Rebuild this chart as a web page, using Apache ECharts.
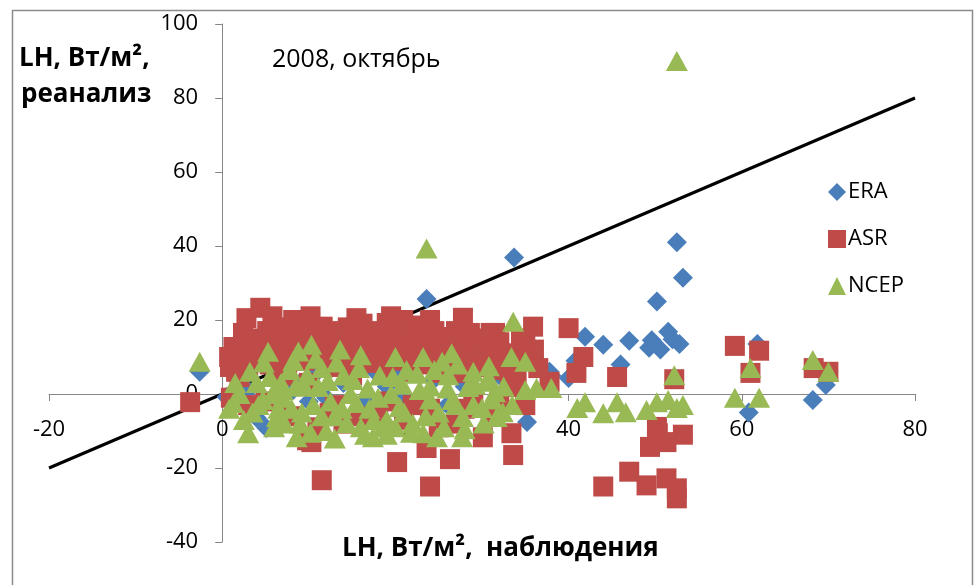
<!DOCTYPE html>
<html>
<head>
<meta charset="utf-8">
<script src="https://cdn.jsdelivr.net/npm/echarts@6/dist/echarts.min.js"></script>
<style>html,body{margin:0;padding:0;background:#fff}#c{width:974px;height:585px}</style>
</head>
<body>
<div id="c"></div>
<script>
const xTicks = [-20, 0, 20, 40, 60, 80];
const yTicks = [-40, -20, 0, 20, 40, 60, 80, 100];
const seriesNames = ['ERA', 'ASR', 'NCEP'];
const refLineX = [-20, 80];
const refLineY = [-20, 80];

const eraPoints = [
  [-2.6,6],[0.5,-0.8],[0.9,-0.8],[2,2],[4,-6.5],[5.1,-9.2],[3,1],[6,4],[8.2,1.1],[7,-3],
  [9,3],[10,-2],[11,6],[12,-1],[13,9],[14,3],[14.4,18.2],[15.7,19.2],[16.7,-1.6],[16.7,-3.5],
  [17.8,5.7],[18.2,6.5],[19,2],[20,5],[21,-1],[22,8],[23.6,25.7],[24.4,3.8],[25,10],[26,-3],
  [27,6],[28,2],[29,12],[30,11],[31.3,11.4],[31.7,11.1],[32,5],[33.7,36.9],[35.2,-7.6],[36,10],
  [37.8,6],[38,5],[40,4.3],[40.8,9],[41.9,15.5],[44,13.3],[46,8],[47,14.4],[49.3,12.5],[49.6,14.5],
  [50.2,25],[50.6,12],[51.5,16.8],[52,14.8],[52.5,41],[53.2,31.4],[52.8,13.5],[61.8,13.5],[60.8,-5],
  [68.2,-1.6],[69.7,2.4]
];

const asrPoints = [
  [-3.7,-2.2],[0.9,7.3],[1.3,12.7],[2,4.6],[2.4,16.5],[3.6,10],[4.4,23.3],[5,14],[5.5,8],[6,18],
  [7,14.6],[7.5,5],[8.2,20],[8.5,12],[9,16],[9.5,9],[10,3],[10.5,17],[11.6,18.2],[12,13],
  [12.8,7.3],[13,16],[14,11],[14.7,15.4],[15,5],[15.5,13],[16.7,16.5],[16.7,8.4],[17.5,12],[18,17],
  [19,19.2],[19.5,14],[20,9],[20.5,11.9],[20.9,20],[21.5,16],[22,6],[22.5,13],[23,17],[24,11],
  [25.2,5.7],[25.5,15.4],[26,12],[27,17],[27.8,20.6],[27.8,5.7],[28.6,16.5],[29,13.8],[29.7,8.4],[30.1,7.3],
  [31,16.5],[31.5,16.5],[32.9,8.4],[34,3.8],[35,13.8],[35.9,18.2],[33,11],[33.2,5.7],[33.6,1.9],[37.8,3.3],
  [1.5,9],[2.5,13],[3,7],[4,15],[4.5,11],[5.2,17],[6.5,10],[6.8,6],[7.5,17.5],[8,9],
  [9.2,13],[9.8,18.5],[10.8,11],[11,15],[11.8,9.5],[12.5,17],[13.5,13.5],[13.8,8],[14.5,18],[15.2,10],
  [16,14],[16.2,19],[17,10.5],[18.3,14.5],[18.8,7],[19.2,11],[20,16.5],[21,13.5],[21.8,10],[22.2,18.5],
  [23.2,14],[23.8,8],[24.5,17],[25,12.5],[26.5,9],[26.8,15],[27.5,11],[28.2,7.5],[29.5,15],[30.5,12],
  [31,9],[32,14],[32.5,6.5],[34,9],[34.5,15],[36,12],[36.5,7],[2.8,20.5],[5.8,21],[10.2,21],
  [15.5,20.5],[19.5,21],[24,20],[0.8,10],[1.6,6],
  [5,-2],[8,-6],[11,-9],[13,-3],[16,-6],[19,-2],[21,-7],[24,-4],[27,-8],[29,-1],[31,-6],[32,-2],[35,-3],
  [1,-1],[3,-3],[9.8,-12.5],[10.3,-13],[11.5,-23.3],[12.4,-5.1],[14,-8],[18,-5],[20.2,-18.4],[22,-3],
  [23.6,-14.6],[24,-25],[26.3,-17.6],[25,-9],[30.1,-11.7],[33.4,-10.6],[33.6,-16.5],[28,-4],
  [40,17.8],[41.7,10],[40.9,5.7],[45.6,4.6],[52.2,4],[44,-25],[47,-21],[49,-24.7],[51.3,-22.8],
  [52.5,-25.5],[52.5,-28.2],[49.4,-14.3],[50.3,-10.6],[53.2,-11],[51.3,-13],[50.2,-8.9],
  [59.2,13],[62,11.7],[61,5.7],[68.3,7],[70,6]
];

const ncepPoints = [
  [-2.6,8.7],[1.3,-2.4],[2,0],[3,-10.6],[4.7,-1.6],[5.3,11.4],[5.5,4.6],[6.3,-6.2],[7,1],[7.8,6.5],
  [8,-4],[8.6,-11.7],[9,-8],[10.3,13.3],[10.5,-3],[11.1,1.9],[11.5,7],[12,-10],[13,-6],[13.6,12],
  [14.4,-7.9],[15.1,3.8],[15.5,-2.4],[16,-9],[17.4,-11.7],[18,-1],[19.7,4.6],[20.5,-3.5],[21.3,6.5],[22,-8],
  [22.8,1.1],[23.2,10],[23.2,-10.6],[23.6,39.3],[24.8,-11.7],[25.4,8.7],[26.1,5.1],[26.6,-1.6],[27.8,-6.2],[27.7,-11.7],
  [28.4,1.9],[29,-3],[30,-3.8],[30.5,3.3],[30.9,3.8],[31.5,0.5],[31.7,-6.2],[32.4,-4.9],[33.5,-3],[33.4,10],
  [33.6,19.5],[35,8.7],[35,1.1],[36.3,1.6],[38,1.6],[41,-3.8],[41.9,-2.2],[44,-5.2],[45.6,-2.2],[46.6,-4.9],
  [49,-4.3],[50.2,-2.2],[51.5,-1.6],[52.5,-3.8],[53.2,-3],[52.2,5.1],[52.5,90],[59.2,-1],[62,-1],[61,7],
  [68.2,9.2],[70,6],[3.5,-5],[4,3],[6,-9],[7,-1],[9.5,2],[12.5,-2],[14,5],[17,-4],
  [19,-7],[21,-5],[24,2],[25,-5],[29,6],[18.5,-9],
  [0.8,-4],[1.5,3],[2.5,-7],[3.2,6],[4.2,-3],[4.8,8.5],[5.8,0],[6.5,-4],[6.8,3],[7.2,-8],
  [8.2,9],[8.5,2],[9.2,-5],[9.8,5],[10.2,-10.5],[10.8,9.5],[11.5,-6],[12.2,3.5],[13,-12],[13.2,8.5],
  [13.8,-4],[14.8,0],[15.8,7],[16.5,-11],[16.8,1.5],[17.5,-7],[18.2,5],[19,-11],[19.5,0],[20,-9],
  [20.8,2.5],[21.8,-10.5],[22.5,5.5],[23.5,-6],[24,-1.5],[24.5,6.5],[25.6,-9],[26,1.5],[27,-3],[27.2,8],
  [28,-9.5],[29.2,2.5],[30.2,-8],[30.8,7.5],[31.2,-1.5],[32.5,2],[26.5,11],[20,10],[16,10.5],[8.8,11.5]
];

const FONT = '"Open Sans", "Noto Sans", sans-serif';
const colors = ['#4A7EBB', '#BE4B48', '#98B954'];

const GRID = {left: 49, top: 24, width: 866, height: 518};
const xMin = xTicks[0], xMax = xTicks[xTicks.length - 1];
const yMin = yTicks[0], yMax = yTicks[yTicks.length - 1];
// place axes so they cross at the origin (like the reference)
const xAxisOffset = -GRID.height * (0 - yMin) / (yMax - yMin);
const yAxisOffset = -GRID.width * (0 - xMin) / (xMax - xMin);

const chart = echarts.init(document.getElementById('c'), null, {renderer: 'canvas'});
chart.setOption({
  animation: false,
  backgroundColor: '#fff',
  grid: Object.assign({containLabel: false}, GRID),
  xAxis: {
    type: 'value', min: xMin, max: xMax, interval: 20, position: 'bottom', offset: xAxisOffset,
    axisLine: {onZero: false, lineStyle: {color: '#868686', width: 1}},
    axisTick: {show: true, length: 7, lineStyle: {color: '#868686'}},
    splitLine: {show: false},
    axisLabel: {fontSize: 22, color: '#000', fontFamily: FONT, margin: 25}
  },
  yAxis: {
    type: 'value', min: yMin, max: yMax, interval: 20, position: 'left', offset: yAxisOffset,
    axisLine: {onZero: false, lineStyle: {color: '#868686', width: 1}},
    axisTick: {show: true, length: 7, lineStyle: {color: '#868686'}},
    splitLine: {show: false},
    axisLabel: {fontSize: 22, color: '#000', fontFamily: FONT, margin: 24}
  },
  legend: {
    orient: 'vertical', left: 823, top: 176, itemGap: 25, itemWidth: 18, itemHeight: 18,
    data: seriesNames,
    textStyle: {fontSize: 22, fontFamily: FONT, color: '#000', padding: [0, 0, 0, -3]}
  },
  series: [
    {
      type: 'line', data: refLineX.map((x, i) => [x, refLineY[i]]), showSymbol: false,
      lineStyle: {color: '#000', width: 3}, z: 1, silent: true
    },
    {name: 'ERA', type: 'scatter', data: eraPoints, symbol: 'diamond', symbolSize: 20,
     itemStyle: {color: colors[0], opacity: 1}, z: 2},
    {name: 'ASR', type: 'scatter', data: asrPoints, symbol: 'rect', symbolSize: 20,
     itemStyle: {color: colors[1], opacity: 1}, z: 3},
    {name: 'NCEP', type: 'scatter', data: ncepPoints, symbol: 'triangle', symbolSize: [22, 20],
     itemStyle: {color: colors[2], opacity: 1}, z: 4}
  ],
  graphic: [
    {type: 'rect', left: 10, top: 8, shape: {width: 960, height: 600},
     style: {fill: 'none', stroke: '#8c8c8c', lineWidth: 1.5}, silent: true, z: -1},
    {type: 'text', left: 19, top: 46,
     style: {text: 'LH, Вт/м², ', font: 'bold 26px ' + FONT, fill: '#000'}},
    {type: 'text', left: 21, top: 82,
     style: {text: 'реанализ', font: 'bold 26px ' + FONT, fill: '#000'}},
    {type: 'text', left: 272, top: 47,
     style: {text: '2008, октябрь', font: '25px ' + FONT, fill: '#000'}},
    {type: 'text', left: 342, top: 536,
     style: {text: 'LH, Вт/м²,  наблюдения', font: 'bold 26px ' + FONT, fill: '#000'}}
  ]
});
</script>
</body>
</html>
